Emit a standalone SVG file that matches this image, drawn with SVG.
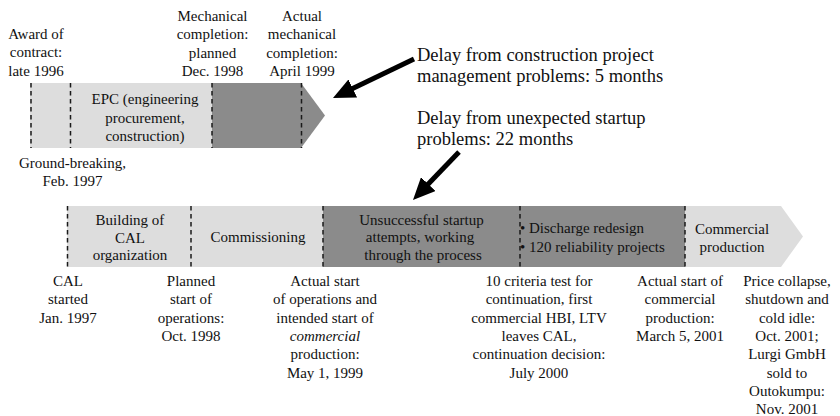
<svg xmlns="http://www.w3.org/2000/svg" width="840" height="416" viewBox="0 0 840 416">
<style>
text{font-size:15px;fill:#111;}
.c{text-anchor:middle;}
.big{font-size:18.5px;}
.light{fill:#dddddd;}
.dark{fill:#8b8b8b;}
.dash{stroke:#1a1a1a;stroke-width:1.5;stroke-dasharray:4.5,3.5;fill:none;}
.arrow{stroke:#000;stroke-width:5;fill:none;}
</style>
<defs>
<marker id="head" markerUnits="userSpaceOnUse" viewBox="0 0 22 20" refX="10" refY="10" markerWidth="22" markerHeight="20" orient="auto">
<path d="M0,0 L22,10 L0,20 z" fill="#000"/>
</marker>
</defs>
<rect width="840" height="416" fill="#fff"/>
<g font-family="Liberation Serif">

<!-- Top timeline -->
<g id="epc">
<rect class="light" x="30" y="83" width="182" height="65"/>
<text class="c" x="145" y="104">EPC (engineering</text>
<text class="c" x="145" y="122.5">procurement,</text>
<text class="c" x="145" y="141">construction)</text>
</g>
<g id="construction-delay">
<polygon class="dark" points="212,83 301,83 325,115.5 301,148 212,148"/>
</g>
<g id="top-dashes">
<line class="dash" x1="31" y1="83" x2="31" y2="148"/>
<line class="dash" x1="70.5" y1="83" x2="70.5" y2="148"/>
<line class="dash" x1="212" y1="83" x2="212" y2="148"/>
<line class="dash" x1="301.5" y1="83" x2="301.5" y2="148"/>
</g>
<g id="award">
<text class="c" x="36" y="39">Award of</text>
<text class="c" x="36" y="57.3">contract:</text>
<text class="c" x="36" y="75.6">late 1996</text>
</g>
<g id="mech-planned">
<text class="c" x="212.5" y="21">Mechanical</text>
<text class="c" x="212.5" y="39.3">completion:</text>
<text class="c" x="212.5" y="57.6">planned</text>
<text class="c" x="212.5" y="76">Dec. 1998</text>
</g>
<g id="mech-actual">
<text class="c" x="302" y="21">Actual</text>
<text class="c" x="302" y="39.3">mechanical</text>
<text class="c" x="302" y="57.6">completion:</text>
<text class="c" x="302" y="76">April 1999</text>
</g>
<g id="ground-breaking">
<text class="c" x="72.5" y="168">Ground-breaking,</text>
<text class="c" x="72.5" y="185.5">Feb. 1997</text>
</g>

<!-- Delay notes -->
<g id="delay-construction">
<text class="big" x="417" y="61">Delay from construction project</text>
<text class="big" x="417" y="82">management problems: 5 months</text>
</g>
<g id="delay-startup">
<text class="big" x="417" y="123.5">Delay from unexpected startup</text>
<text class="big" x="417" y="145">problems: 22 months</text>
</g>

<!-- Bottom timeline -->
<g id="building">
<rect class="light" x="67" y="206" width="124" height="61"/>
<text class="c" x="130" y="225">Building of</text>
<text class="c" x="130" y="242.5">CAL</text>
<text class="c" x="130" y="260">organization</text>
</g>
<g id="commissioning">
<rect class="light" x="191" y="206" width="132" height="61"/>
<text class="c" x="258" y="242">Commissioning</text>
</g>
<g id="unsuccessful">
<rect class="dark" x="323" y="206" width="197" height="61"/>
<text class="c" x="421.5" y="225">Unsuccessful startup</text>
<text class="c" x="420" y="242">attempts, working</text>
<text class="c" x="423" y="259.5">through the process</text>
</g>
<g id="redesign">
<rect class="dark" x="520" y="206" width="165" height="61"/>
<text x="520" y="233">&#8226; Discharge redesign</text>
<text x="520" y="251.5">&#8226; 120 reliability projects</text>
</g>
<g id="commercial">
<polygon class="light" points="685,206 781,206 803,236.5 781,267 685,267"/>
<text class="c" x="732" y="233.5">Commercial</text>
<text class="c" x="732" y="252">production</text>
</g>
<g id="bottom-dashes">
<line class="dash" x1="67.5" y1="206" x2="67.5" y2="267"/>
<line class="dash" x1="191" y1="206" x2="191" y2="267"/>
<line class="dash" x1="323" y1="206" x2="323" y2="267"/>
<line class="dash" x1="520" y1="206" x2="520" y2="267"/>
<line class="dash" x1="685" y1="206" x2="685" y2="267"/>
</g>

<g id="cal-started">
<text class="c" x="68" y="286">CAL</text>
<text class="c" x="68" y="304.3">started</text>
<text class="c" x="68" y="322.6">Jan. 1997</text>
</g>
<g id="planned-start">
<text class="c" x="191" y="286">Planned</text>
<text class="c" x="191" y="304.3">start of</text>
<text class="c" x="191" y="322.6">operations:</text>
<text class="c" x="191" y="340.9">Oct. 1998</text>
</g>
<g id="actual-start">
<text class="c" x="325" y="286">Actual start</text>
<text class="c" x="325" y="304.3">of operations and</text>
<text class="c" x="325" y="322.6">intended start of</text>
<text class="c" x="325" y="340.9" font-style="italic">commercial</text>
<text class="c" x="325" y="359.2">production:</text>
<text class="c" x="325" y="377.5">May 1, 1999</text>
</g>
<g id="criteria-test">
<text class="c" x="539" y="286">10 criteria test for</text>
<text class="c" x="539" y="304.3">continuation, first</text>
<text class="c" x="539" y="322.6">commercial HBI, LTV</text>
<text class="c" x="539" y="340.9">leaves CAL,</text>
<text class="c" x="539" y="359.2">continuation decision:</text>
<text class="c" x="539" y="377.5">July 2000</text>
</g>
<g id="commercial-start">
<text class="c" x="680" y="286">Actual start of</text>
<text class="c" x="680" y="304.3">commercial</text>
<text class="c" x="680" y="322.6">production:</text>
<text class="c" x="680" y="340.9">March 5, 2001</text>
</g>
<g id="price-collapse">
<text class="c" x="787" y="286">Price collapse,</text>
<text class="c" x="787" y="304.3">shutdown and</text>
<text class="c" x="787" y="322.6">cold idle:</text>
<text class="c" x="787" y="340.9">Oct. 2001;</text>
<text class="c" x="787" y="359.2">Lurgi GmbH</text>
<text class="c" x="787" y="377.5">sold to</text>
<text class="c" x="787" y="395.8">Outokumpu:</text>
<text class="c" x="787" y="414.1">Nov. 2001</text>
</g>
</g>

<g id="connectors">
<line class="arrow" x1="414" y1="59" x2="343.8" y2="92.8" marker-end="url(#head)"/>
<line class="arrow" x1="459" y1="152" x2="421.3" y2="191.3" marker-end="url(#head)"/>
</g>
</svg>
